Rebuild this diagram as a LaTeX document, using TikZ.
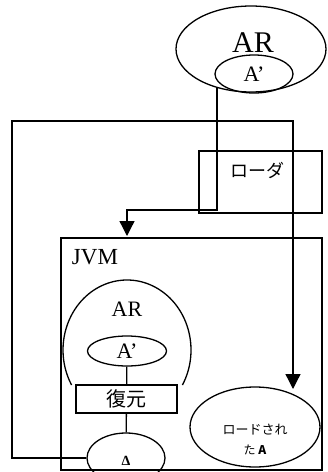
\documentclass[tikz,border=0pt]{standalone}
\usepackage{fontspec}
\setmainfont{Liberation Serif}
\newfontfamily\jp{Noto Sans CJK JP}
\usetikzlibrary{shapes.geometric,arrows.meta}
\begin{document}
\begin{tikzpicture}[x=1pt,y=-1pt,
  line width=1.3pt,
  ell/.style={draw,ellipse,inner sep=0pt},
  box/.style={draw,rectangle,inner sep=0pt},
  arr/.style={-{Triangle[width=15pt,length=15pt]}},
  lbl/.style={inner sep=0pt},
  fs/.style={font=\fontsize{#1}{#1}\selectfont}]
\clip (0,0) rectangle (328,472);
% top AR
\node[ell, minimum width=150pt, minimum height=86pt] (ar) at (251,49) {};
\node[lbl, fs=30] (arlbl) at (253,43) {AR};
\node[ell, minimum width=78pt, minimum height=38pt, fs=22] (ara) at (254,74) {A’};
% loader
\node[box, minimum width=123pt, minimum height=62pt] (loader) at (260.5,182) {};
\node[lbl, font=\jp\fontsize{18}{18}\selectfont] (loaderlbl) at (257,170) {ローダ};
% JVM
\node[box, minimum width=261pt, minimum height=232pt] (jvm) at (191.5,354) {};
\node[lbl, fs=23] (jvmlbl) at (95,257) {JVM};
% dome
\draw ([shift={(30:64 and 70)}]127,350) arc[start angle=30,end angle=-210,x radius=64,y radius=70];
\node[lbl, fs=22] (inarlbl) at (127,309) {AR};
\node[ell, minimum width=79pt, minimum height=30pt, fs=22] (ina) at (127,351) {A’};
\node[box, fill=white, minimum width=101pt, minimum height=28pt, font=\jp\fontsize{20}{20}\selectfont] (fuku) at (126.5,399) {復元};
\node[ell, minimum width=78pt, minimum height=50pt] (delta) at (126,458) {};
\node[lbl, font=\fontsize{14}{14}\selectfont\bfseries] (deltalbl) at (126,461) {Δ};
% loaded A
\node[ell, minimum width=130pt, minimum height=80pt] (loaded) at (255,427) {};
\node[lbl, font=\jp\fontsize{13}{13}\selectfont] (loaded1) at (255,430) {ロードされ};
\node[lbl, font=\jp\fontsize{12}{12}\selectfont] (loaded2) at (255,450) {た \textbf{A}};
% connectors
\draw (ina) -- (fuku);
\draw (fuku) -- (delta);
\coordinate (k1) at (127,210);
\coordinate (t1) at (127,236);
\draw[arr] (ar.229.5) |- (k1) -- (t1);
\coordinate (c1) at (12,121);
\coordinate (t2) at (293,389);
\draw[arr] (delta.west) -| (c1) -| (t2);
\end{tikzpicture}
\end{document}
